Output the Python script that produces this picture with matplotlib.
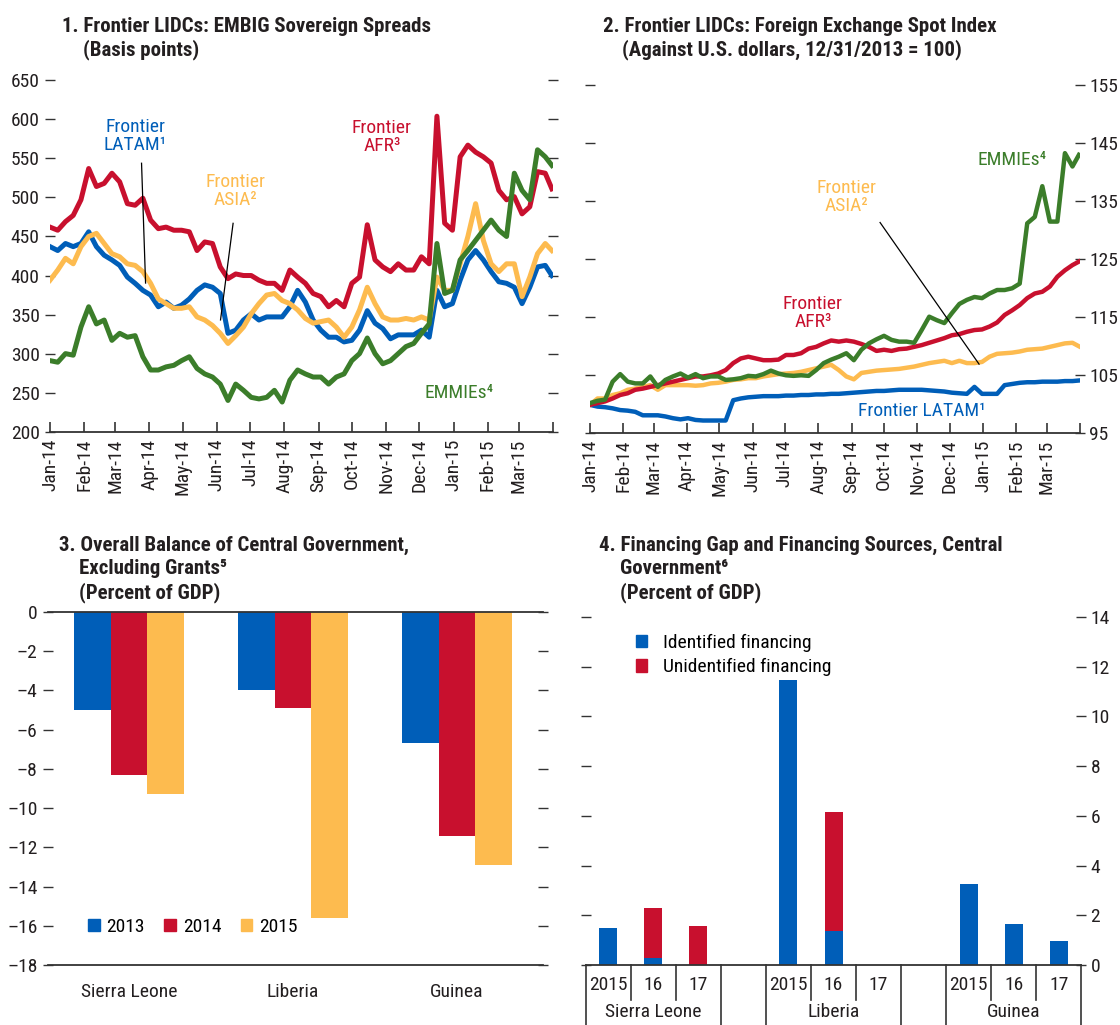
import numpy as np
import pandas as pd
import matplotlib
matplotlib.use("Agg")
import matplotlib.pyplot as plt
from matplotlib import font_manager as fm
from matplotlib.patches import Patch

# ---------------- fonts ----------------
names = {f.name for f in fm.fontManager.ttflist}
FAM = None
for cand in ["Roboto Condensed", "Liberation Sans Narrow", "Open Sans Condensed",
             "Noto Sans Condensed", "DejaVu Sans Condensed"]:
    if cand in names:
        FAM = cand
        break
STRETCH = "normal"
if FAM is None:
    if any(f.name == "DejaVu Sans" and f.stretch in ("condensed", "semi-condensed")
           for f in fm.fontManager.ttflist):
        FAM = "DejaVu Sans"
        STRETCH = "condensed"
    else:
        FAM = "Roboto"
plt.rcParams["font.family"] = [FAM, "DejaVu Sans"]
plt.rcParams["font.stretch"] = STRETCH

BLUE = "#005EB8"
RED = "#C8102E"
YELLOW = "#FDBB4F"
GREEN = "#3B7D2A"
TXT = "#231F20"

# ---------------- data ----------------
# weekly observations, Jan 1 2014 .. Mar 25 2015, plus last day Mar 31 2015
dates = list(pd.date_range("2014-01-01", periods=65, freq="7D")) + [pd.Timestamp("2015-03-31")]

# Panel 1: EMBIG sovereign spreads (basis points)
latam_spread = [437, 432, 441, 437, 441, 456, 437, 426, 420, 413,
                398, 390, 381, 375, 360, 366, 358, 362, 370, 381,
                388, 385, 377, 326, 330, 343, 351, 343, 347, 347,
                347, 360, 381, 366, 343, 330, 321, 321, 315, 317,
                330, 355, 339, 332, 319, 324, 324, 324, 330, 321,
                381, 360, 364, 394, 420, 432, 420, 405, 392, 390,
                385, 364, 385, 411, 413, 400]
asia_spread = [394, 407, 422, 415, 437, 450, 454, 441, 428, 424,
               415, 413, 405, 390, 370, 364, 358, 358, 360, 347,
               343, 336, 326, 313, 323, 334, 351, 364, 375, 377,
               368, 364, 356, 345, 339, 341, 343, 334, 321, 334,
               356, 385, 364, 347, 343, 343, 345, 343, 347, 343,
               398, 381, 381, 415, 450, 492, 445, 415, 405, 415,
               415, 373, 398, 428, 441, 432]
afr_spread = [462, 458, 469, 477, 497, 537, 514, 518, 531, 520,
              492, 490, 499, 471, 460, 462, 458, 458, 456, 432,
              443, 441, 411, 396, 402, 400, 400, 394, 390, 390,
              381, 407, 398, 390, 377, 373, 360, 368, 360, 390,
              398, 465, 420, 411, 405, 415, 407, 407, 424, 415,
              604, 467, 458, 552, 567, 558, 552, 544, 509, 497,
              501, 479, 488, 533, 531, 511]
emmie_spread = [291, 289, 300, 298, 334, 360, 338, 343, 317, 326,
                321, 323, 296, 279, 279, 283, 285, 291, 296, 281,
                274, 270, 261, 240, 261, 253, 244, 242, 244, 253,
                238, 266, 279, 274, 270, 270, 261, 270, 274, 291,
                300, 320, 300, 287, 291, 300, 309, 313, 326, 338,
                441, 377, 381, 420, 432, 445, 458, 471, 458, 450,
                531, 509, 497, 561, 552, 541]

# Panel 2: FX spot index (12/31/2013 = 100)
latam_fx = [99.8, 99.5, 99.4, 99.2, 98.9, 98.8, 98.6, 98.0, 98.0, 98.0,
            97.8, 97.5, 97.3, 97.5, 97.2, 97.1, 97.1, 97.1, 97.1, 100.6,
            100.9, 101.1, 101.2, 101.3, 101.3, 101.3, 101.4, 101.4, 101.5, 101.5,
            101.6, 101.6, 101.7, 101.7, 101.8, 101.9, 102.0, 102.1, 102.2, 102.2,
            102.3, 102.4, 102.4, 102.4, 102.4, 102.3, 102.2, 102.1, 101.9, 101.8,
            101.7, 102.9, 101.7, 101.7, 101.7, 103.2, 103.4, 103.6, 103.7, 103.7,
            103.8, 103.8, 103.8, 103.9, 103.9, 104.0]
asia_fx = [99.8, 100.9, 100.9, 101.5, 101.8, 102.4, 102.6, 102.9, 103.2, 102.4,
           103.2, 103.2, 103.2, 103.2, 103.1, 103.2, 103.5, 103.6, 103.8, 104.1,
           104.2, 104.4, 104.4, 104.7, 104.9, 105.1, 105.2, 105.3, 105.5, 105.8,
           106.1, 106.4, 106.7, 105.8, 104.7, 104.2, 105.3, 105.5, 105.7, 105.8,
           105.9, 106.0, 106.2, 106.4, 106.7, 107.0, 107.2, 107.4, 107.0, 107.4,
           107.0, 107.0, 107.2, 108.1, 108.6, 108.7, 108.8, 109.0, 109.3, 109.4,
           109.5, 109.8, 110.1, 110.4, 110.5, 109.9]
afr_fx = [99.8, 100.1, 100.4, 100.9, 101.5, 101.8, 102.4, 102.6, 102.9, 103.2,
          103.5, 103.8, 104.1, 104.4, 104.7, 104.7, 104.9, 105.2, 105.8, 107.0,
          107.8, 108.1, 107.8, 107.5, 107.5, 107.6, 108.4, 108.4, 108.7, 109.5,
          109.8, 110.4, 110.9, 110.7, 110.9, 110.7, 110.3, 109.8, 109.1, 109.3,
          109.1, 109.4, 109.5, 109.8, 110.1, 110.5, 110.9, 111.3, 111.8, 112.0,
          112.4, 112.7, 112.8, 113.3, 114.0, 115.3, 116.1, 117.0, 118.2, 119.0,
          119.3, 120.2, 121.9, 123.0, 123.9, 124.5]
emmie_fx = [100.1, 100.5, 100.7, 103.8, 105.1, 103.8, 103.5, 103.5, 104.7, 102.9,
            104.1, 104.7, 105.2, 104.5, 105.1, 104.4, 104.7, 104.7, 104.1, 104.2,
            104.4, 104.8, 104.7, 105.1, 105.7, 105.2, 104.9, 104.8, 104.9, 104.8,
            105.8, 107.0, 107.6, 108.1, 108.7, 107.5, 109.3, 110.4, 111.1, 111.7,
            111.0, 110.7, 110.7, 110.5, 112.7, 115.0, 114.4, 113.9, 115.6, 117.2,
            117.9, 118.4, 118.2, 119.0, 119.6, 119.6, 119.9, 120.7, 131.1, 132.2,
            137.5, 131.4, 131.4, 143.2, 140.9, 142.9]

# Panel 3: overall balance excluding grants (% of GDP)
countries = ["Sierra Leone", "Liberia", "Guinea"]
bal_years = ["2013", "2014", "2015"]
bal_2013 = [-5.0, -4.0, -6.7]
bal_2014 = [-8.3, -4.9, -11.4]
bal_2015 = [-9.3, -15.6, -12.9]

# Panel 4: financing gap (% of GDP), per country for 2015, 16, 17
fin_years = ["2015", "16", "17"]
identified = [1.48, 0.28, 0.0, 11.45, 1.38, 0.0, 3.26, 1.66, 0.98]
unidentified = [0.0, 2.0, 1.57, 0.0, 4.77, 0.0, 0.0, 0.0, 0.0]

# ---------------- figure ----------------
fig = plt.figure(figsize=(11.2, 10.25), dpi=100)
FS = 14
TFS = 15


def px_text(x, y, s, **kw):
    fig.text(x / 1120, 1 - y / 1025, s, **kw)


def title(x1, x2, ys, lines):
    for i, (ln, y) in enumerate(zip(lines, ys)):
        px_text(x1 if i == 0 else x2, y, ln, fontsize=TFS, fontweight="bold",
                color=TXT, va="center", ha="left")


title(62, 83, [26, 50], ["1. Frontier LIDCs: EMBIG Sovereign Spreads", "(Basis points)"])
title(603, 622, [26, 50], ["2. Frontier LIDCs: Foreign Exchange Spot Index",
                           "(Against U.S. dollars, 12/31/2013 = 100)"])
title(59, 79, [545, 569, 593], ["3. Overall Balance of Central Government,",
                                "Excluding Grants\u2075", "(Percent of GDP)"])
title(599, 620, [545, 569, 593], ["4. Financing Gap and Financing Sources, Central",
                                  "Government\u2076", "(Percent of GDP)"])


def style_time_axis(ax):
    ax.set_xlim(pd.Timestamp("2014-01-01"), pd.Timestamp("2015-04-01"))
    ticks = list(pd.date_range("2014-01-01", "2015-04-01", freq="MS"))
    ax.set_xticks(ticks)
    labels = [t.strftime("%b-%y") for t in ticks]
    labels[-1] = ""
    ax.set_xticklabels(labels, rotation=90, fontsize=FS, color=TXT)
    ax.tick_params(axis="x", direction="in", length=7, width=1.2, color="#333333", pad=5)
    for s in ["left", "right", "top"]:
        ax.spines[s].set_visible(False)
    ax.spines["bottom"].set_linewidth(1.3)
    ax.spines["bottom"].set_color("#333333")
    ax.tick_params(axis="y", direction="inout", length=7, width=1.0, color="#333333",
                   left=True, right=True, labelsize=FS, labelcolor=TXT)


LW = 3.6
# ---------------- Panel 1 ----------------
ax1 = fig.add_axes([50 / 1120, 1 - 431.7 / 1025, 503 / 1120, 351.4 / 1025])
ax1.plot(dates, latam_spread, color=BLUE, lw=LW, solid_joinstyle="round")
ax1.plot(dates, asia_spread, color=YELLOW, lw=LW, solid_joinstyle="round")
ax1.plot(dates, afr_spread, color=RED, lw=LW, solid_joinstyle="round")
ax1.plot(dates, emmie_spread, color=GREEN, lw=LW, solid_joinstyle="round")
ax1.set_ylim(200, 650)
ax1.set_yticks(range(200, 651, 50))
style_time_axis(ax1)
ax1.tick_params(axis="y", labelleft=True, labelright=False, pad=4)

ax1.text(0.169, 0.841, "Frontier\nLATAM\u00b9", transform=ax1.transAxes, color=BLUE,
         fontsize=FS, ha="center", va="center", linespacing=1.0)
ax1.plot([0.182, 0.190], [0.764, 0.423], transform=ax1.transAxes, color="black", lw=0.9)
ax1.text(0.368, 0.685, "Frontier\nASIA\u00b2", transform=ax1.transAxes, color=YELLOW,
         fontsize=FS, ha="center", va="center", linespacing=1.0)
ax1.plot([0.364, 0.339], [0.593, 0.318], transform=ax1.transAxes, color="black", lw=0.9)
ax1.text(0.660, 0.839, "Frontier\nAFR\u00b3", transform=ax1.transAxes, color=RED,
         fontsize=FS, ha="center", va="center", linespacing=1.0)
ax1.text(0.813, 0.110, "EMMIEs\u2074", transform=ax1.transAxes, color=GREEN,
         fontsize=FS, ha="center", va="center")

# ---------------- Panel 2 ----------------
ax2 = fig.add_axes([590 / 1120, 1 - 432.7 / 1025, 490 / 1120, 348 / 1025])
ax2.plot(dates, latam_fx, color=BLUE, lw=3.2, solid_joinstyle="round")
ax2.plot(dates, asia_fx, color=YELLOW, lw=3.2, solid_joinstyle="round")
ax2.plot(dates, afr_fx, color=RED, lw=3.2, solid_joinstyle="round")
ax2.plot(dates, emmie_fx, color=GREEN, lw=3.2, solid_joinstyle="round")
ax2.set_ylim(95, 155)
ax2.set_yticks(range(95, 156, 10))
style_time_axis(ax2)
ax2.tick_params(axis="y", labelleft=False, labelright=True, pad=3)

ax2.text(0.861, 0.784, "EMMIEs\u2074", transform=ax2.transAxes, color=GREEN,
         fontsize=FS, ha="center", va="center")
ax2.text(0.524, 0.677, "Frontier\nASIA\u00b2", transform=ax2.transAxes, color=YELLOW,
         fontsize=FS, ha="center", va="center", linespacing=1.0)
ax2.plot([0.592, 0.794], [0.604, 0.197], transform=ax2.transAxes, color="black", lw=0.9)
ax2.text(0.455, 0.344, "Frontier\nAFR\u00b3", transform=ax2.transAxes, color=RED,
         fontsize=FS, ha="center", va="center", linespacing=1.0)
ax2.text(0.678, 0.062, "Frontier LATAM\u00b9", transform=ax2.transAxes, color=BLUE,
         fontsize=FS, ha="center", va="center")

# ---------------- Panel 3 ----------------
ax3 = fig.add_axes([48 / 1120, 1 - 965 / 1025, 495 / 1120, 353 / 1025])
xg = np.arange(len(countries))
bw = 0.2226
ax3.bar(xg - bw, bal_2013, bw, color=BLUE, label=bal_years[0])
ax3.bar(xg, bal_2014, bw, color=RED, label=bal_years[1])
ax3.bar(xg + bw, bal_2015, bw, color=YELLOW, label=bal_years[2])
ax3.set_xlim(-0.494, 2.524)
ax3.set_ylim(-18, 0)
ax3.set_yticks(range(-18, 1, 2))
ax3.set_yticklabels([("\u2013" + str(-v)) if v < 0 else str(v) for v in range(-18, 1, 2)])
ax3.tick_params(axis="y", direction="inout", length=7, width=1.0, color="#333333",
                left=True, right=True, labelleft=True, labelright=False,
                labelsize=FS, labelcolor=TXT, pad=4)
ax3.set_xticks(xg)
ax3.set_xticklabels(countries, fontsize=FS, color=TXT)
ax3.tick_params(axis="x", length=0, pad=13)
for s in ["left", "right"]:
    ax3.spines[s].set_visible(False)
for s in ["top", "bottom"]:
    ax3.spines[s].set_linewidth(1.3)
    ax3.spines[s].set_color("#333333")
handles3 = [Patch(color=c, label=l) for c, l in zip([BLUE, RED, YELLOW], bal_years)]
ax3.legend(handles=handles3, loc="center left", bbox_to_anchor=(0.065, 0.108), ncol=3,
           frameon=False, fontsize=FS, handlelength=0.6, handleheight=0.6,
           handletextpad=0.35, columnspacing=1.0, borderaxespad=0)

# ---------------- Panel 4 ----------------
ax4 = fig.add_axes([585.7 / 1120, 1 - 965 / 1025, 495.7 / 1120, 348 / 1025])
slot_pos = [0.5, 1.5, 2.5, 4.5, 5.5, 6.5, 8.5, 9.5, 10.5]
ax4.bar(slot_pos, identified, 0.4, color=BLUE, label="Identified financing")
ax4.bar(slot_pos, unidentified, 0.4, bottom=identified, color=RED,
        label="Unidentified financing")
ax4.set_xlim(0, 11)
ax4.set_ylim(0, 14)
ax4.set_yticks(range(0, 15, 2))
ax4.set_xticks([])
ax4.tick_params(axis="y", direction="inout", length=7, width=1.0, color="#333333",
                left=True, right=True, labelleft=False, labelright=True,
                labelsize=FS, labelcolor=TXT, pad=3)
for s in ["left", "right", "top"]:
    ax4.spines[s].set_visible(False)
ax4.spines["bottom"].set_linewidth(1.3)
ax4.spines["bottom"].set_color("#333333")
trans = ax4.get_xaxis_transform()
for g, name in enumerate(countries):
    base = 4 * g
    for j, yl in enumerate(fin_years):
        ax4.text(base + j + 0.5, -0.057, yl, transform=trans, ha="center", va="center",
                 fontsize=FS, color=TXT)
    ax4.text(base + 1.5, -0.135, name, transform=trans, ha="center", va="center",
             fontsize=FS, color=TXT)
    for xb in (base + 1, base + 2):
        ax4.plot([xb, xb], [0, -0.10], transform=trans, color="#333333", lw=1.2,
                 clip_on=False)
    for xb in (base, base + 3):
        ax4.plot([xb, xb], [0, -0.18], transform=trans, color="#333333", lw=1.2,
                 clip_on=False)
handles4 = [Patch(color=BLUE, label="Identified financing"),
            Patch(color=RED, label="Unidentified financing")]
ax4.legend(handles=handles4, loc="upper left", bbox_to_anchor=(0.085, 0.975),
           frameon=False, fontsize=FS, handlelength=0.6, handleheight=0.6,
           handletextpad=0.8, labelspacing=0.35, borderaxespad=0)

fig.savefig("out.png", dpi=100)
